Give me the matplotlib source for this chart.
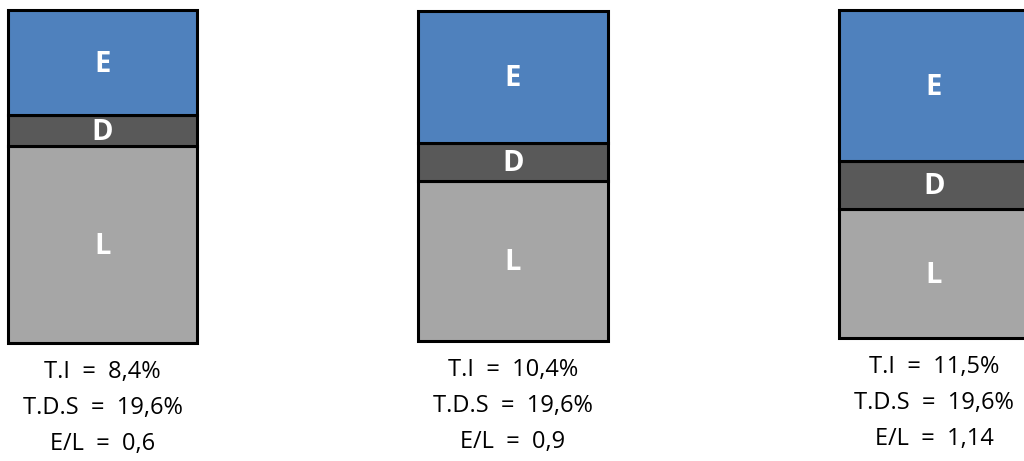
import matplotlib
matplotlib.use("Agg")
import matplotlib.pyplot as plt

# capital structure of three cases: equity / debt / liabilities (share of total, %)
segments = ["E", "D", "L"]
equity = [31.5, 40.0, 46.0]
debt = [9.3, 11.5, 14.7]
liabilities = [59.2, 48.5, 39.3]

ti = ["8,4%", "10,4%", "11,5%"]
tds = ["19,6%", "19,6%", "19,6%"]
el = ["0,6", "0,9", "1,14"]

colors = {"E": "#4F81BD", "D": "#595959", "L": "#A6A6A6"}

plt.rcParams["font.family"] = ["Open Sans", "DejaVu Sans"]

W, H = 1024, 461
fig = plt.figure(figsize=(W / 100, H / 100), dpi=100)

# panel boxes in pixels: left, right, top, bottom
boxes = [(8, 197, 10, 343), (418, 608, 11, 341), (839, 1029, 10, 338)]

for i, (l, r, t, b) in enumerate(boxes):
    ax = fig.add_axes([l / W, (H - b) / H, (r - l) / W, (b - t) / H])
    vals = {"L": liabilities[i], "D": debt[i], "E": equity[i]}
    bottom = 0
    for seg in ["L", "D", "E"]:
        v = vals[seg]
        ax.bar([0], [v], bottom=bottom, width=1, color=colors[seg],
               edgecolor="black", linewidth=2.2, clip_on=False)
        ax.annotate(seg, xy=(0, bottom + v / 2), xytext=(0, -2),
                    textcoords="offset pixels", color="white", fontsize=21,
                    fontweight="bold", ha="center", va="center")
        bottom += v
    ax.set_xlim(-0.5, 0.5)
    ax.set_ylim(0, bottom)
    ax.axis("off")

    lines = [f"T.I  =  {ti[i]}", f"T.D.S  =  {tds[i]}", f"E/L  =  {el[i]}"]
    for k, txt in enumerate(lines):
        ax.annotate(txt, xy=(0.5, 0), xycoords="axes fraction",
                    xytext=(0, -29 - 36 * k), textcoords="offset pixels",
                    ha="center", va="center", fontsize=17, color="black")

fig.savefig("out.png", dpi=100)
